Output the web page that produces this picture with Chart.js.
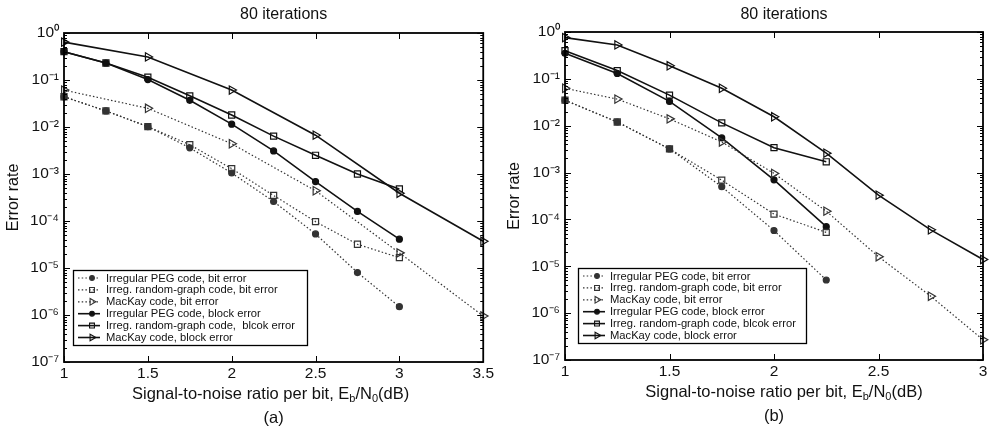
<!DOCTYPE html>
<html>
<head>
<meta charset="utf-8">
<script src="https://cdn.jsdelivr.net/npm/chart.js@4/dist/chart.umd.min.js"></script>
<style>
  html, body { margin: 0; padding: 0; background: #fff; }
  #wrap { position: relative; width: 992px; height: 442px; }
  .panel { position: absolute; top: 0; width: 496px; height: 442px; }
</style>
</head>
<body>
<div id="wrap">
  <div class="panel" style="left:0"><canvas id="chartA" width="496" height="442"></canvas></div>
  <div class="panel" style="left:496px"><canvas id="chartB" width="496" height="442"></canvas></div>
</div>
<script>
// ---- data ----
const legendLabelsA = [
  'Irregular PEG code, bit error',
  'Irreg. random-graph code, bit error',
  'MacKay code, bit error',
  'Irregular PEG code, block error',
  'Irreg. random-graph code,  blcok error',
  'MacKay code, block error',
];
const legendLabelsB = [
  'Irregular PEG code, bit error',
  'Irreg. random-graph code, bit error',
  'MacKay code, bit error',
  'Irregular PEG code, block error',
  'Irreg. random-graph code, blcok error',
  'MacKay code, block error',
];

const yTickExps = [0, -1, -2, -3, -4, -5, -6, -7];
const yTickLabels = ['10⁰', '10⁻¹', '10⁻²', '10⁻³', '10⁻⁴', '10⁻⁵', '10⁻⁶', '10⁻⁷'];

// (a)
const snrA = [1, 1.25, 1.5, 1.75, 2, 2.25, 2.5, 2.75, 3];
const snrMacKayA = [1, 1.5, 2, 2.5, 3, 3.5];
const pegBitA = [0.044, 0.022, 0.0102, 0.0036, 0.00105, 0.00026, 0.000053, 0.000008, 0.0000015];
const randBitA = [0.044, 0.022, 0.0102, 0.0042, 0.0013, 0.00035, 0.000097, 0.000032, 0.0000166];
const mackayBitA = [0.061, 0.025, 0.0044, 0.00044, 0.000021, 0.00000095];
const pegBlockA = [0.4, 0.23, 0.102, 0.037, 0.0115, 0.0031, 0.00069, 0.00016, 0.000041];
const randBlockA = [0.4, 0.23, 0.115, 0.046, 0.018, 0.0064, 0.0025, 0.001, 0.00048];
const mackayBlockA = [0.64, 0.31, 0.061, 0.0067, 0.00039, 0.000037];

// (b)
const snrB = [1, 1.25, 1.5, 1.75, 2, 2.25];
const snrMacKayB = [1, 1.25, 1.5, 1.75, 2, 2.25, 2.5, 2.75, 3];
const pegBitB = [0.035, 0.012, 0.0032, 0.0005, 0.000058, 0.0000051];
const randBitB = [0.035, 0.012, 0.0032, 0.00069, 0.00013, 0.000053];
const mackayBitB = [0.063, 0.037, 0.014, 0.0045, 0.00096, 0.00015, 0.000016, 0.0000023, 0.00000027];
const pegBlockB = [0.35, 0.13, 0.033, 0.0055, 0.0007, 0.00007];
const randBlockB = [0.4, 0.15, 0.045, 0.0115, 0.0034, 0.0017];
const mackayBlockB = [0.76, 0.53, 0.19, 0.063, 0.0155, 0.0026, 0.00033, 0.00006, 0.000014];

// ---- styling ----
const FONT = "'Liberation Sans', Arial, sans-serif";
Chart.defaults.font.family = FONT;
Chart.defaults.color = '#111';

const DOT = '#333';
const styles = [
  { color: DOT, dash: [1.5, 2.2], width: 1.2, point: 'circle', r: 3, fill: DOT },
  { color: DOT, dash: [1.5, 2.2], width: 1.2, point: 'rect', r: 4.3, fill: 'rgba(0,0,0,0)' },
  { color: DOT, dash: [1.5, 2.2], width: 1.2, point: 'triangle', r: 4.8, fill: 'rgba(0,0,0,0)' },
  { color: '#111', dash: [], width: 1.6, point: 'circle', r: 3, fill: '#111' },
  { color: '#111', dash: [], width: 1.6, point: 'rect', r: 4.3, fill: 'rgba(0,0,0,0)' },
  { color: '#111', dash: [], width: 1.6, point: 'triangle', r: 4.8, fill: 'rgba(0,0,0,0)' },
];

function pairs(xs, ys) {
  return ys.map((y, i) => ({ x: xs[i], y: y }));
}

function buildDatasets(series, labels) {
  return series.map((s, i) => {
    const st = styles[i];
    return {
      label: labels[i],
      data: pairs(s[0], s[1]),
      borderColor: st.color,
      borderWidth: st.width,
      borderDash: st.dash,
      pointStyle: st.point,
      pointRotation: st.point === 'triangle' ? 90 : 0,
      pointRadius: st.r,
      pointBorderWidth: 1.2,
      pointBorderColor: st.color,
      pointBackgroundColor: st.fill,
      tension: 0,
      fill: false,
      clip: false,
    };
  });
}

function drawMarker(ctx, st, x, y, k) {
  ctx.save();
  ctx.setLineDash([]);
  ctx.lineWidth = 1.1;
  ctx.strokeStyle = st.color;
  ctx.fillStyle = st.fill;
  ctx.beginPath();
  const r = st.r * k;
  if (st.point === 'circle') {
    ctx.arc(x, y, r, 0, Math.PI * 2);
  } else if (st.point === 'rect') {
    const h = r * Math.SQRT1_2;
    ctx.rect(x - h, y - h, 2 * h, 2 * h);
  } else {
    ctx.moveTo(x + r, y);
    ctx.lineTo(x - r * 0.5, y - r * 0.866);
    ctx.lineTo(x - r * 0.5, y + r * 0.866);
    ctx.closePath();
  }
  ctx.fill();
  ctx.stroke();
  ctx.restore();
}

// title, box, inner ticks on all four sides, legend, x title with subscripts
const decorations = {
  id: 'decorations',
  afterDatasetsDraw(chart, args, opts) {
    const { ctx, chartArea: a, scales } = chart;
    const x = scales.x, y = scales.y;
    const mid = (a.left + a.right) / 2;
    ctx.save();
    ctx.strokeStyle = '#000';
    ctx.lineWidth = 1;
    ctx.beginPath();
    x.ticks.forEach((t) => {
      const px = Math.round(x.getPixelForValue(t.value)) + 0.5;
      ctx.moveTo(px, a.bottom); ctx.lineTo(px, a.bottom - 6);
      ctx.moveTo(px, a.top); ctx.lineTo(px, a.top + 6);
    });
    for (let e = -7; e <= 0; e++) {
      for (let m = 1; m < 10; m++) {
        const v = m * Math.pow(10, e);
        if (v > 1) break;
        const py = Math.round(y.getPixelForValue(v)) + 0.5;
        const len = m === 1 ? 6 : 3;
        ctx.moveTo(a.left, py); ctx.lineTo(a.left + len, py);
        ctx.moveTo(a.right, py); ctx.lineTo(a.right - len, py);
      }
    }
    ctx.stroke();
    ctx.lineWidth = 1.8;
    ctx.strokeRect(a.left, a.top, a.width, a.height);

    // chart title
    ctx.fillStyle = '#111';
    ctx.font = '16px ' + FONT;
    ctx.textAlign = 'center';
    ctx.textBaseline = 'middle';
    ctx.fillText(opts.title, mid + opts.titleShift, 15);

    // legend
    const L = opts.legend;
    ctx.fillStyle = '#fff';
    ctx.fillRect(L.left, L.top, L.width, L.height);
    ctx.lineWidth = 1.3;
    ctx.strokeStyle = '#000';
    ctx.strokeRect(L.left + 0.5, L.top + 0.5, L.width, L.height);
    ctx.font = L.font + 'px ' + FONT;
    ctx.textAlign = 'left';
    chart.data.datasets.forEach((ds, i) => {
      const st = styles[i];
      const ry = L.top + 8 + i * 11.9;
      ctx.save();
      ctx.strokeStyle = st.color;
      ctx.lineWidth = st.width;
      ctx.setLineDash(st.dash);
      ctx.beginPath();
      ctx.moveTo(L.left + L.lineFrom, ry);
      ctx.lineTo(L.left + L.lineTo, ry);
      ctx.stroke();
      ctx.restore();
      drawMarker(ctx, st, L.left + L.markAt, ry, 0.8);
      ctx.fillStyle = '#111';
      ctx.fillText(ds.label, L.left + L.textAt, ry + 0.5);
    });

    // x axis title with subscripts, then panel tag
    const parts = [
      ['Signal-to-noise ratio per bit, E', false],
      ['b', true],
      ['/N', false],
      ['0', true],
      ['(dB)', false],
    ];
    const big = '16.5px ' + FONT;
    const small = '11px ' + FONT;
    let total = 0;
    parts.forEach((p) => { ctx.font = p[1] ? small : big; total += ctx.measureText(p[0]).width; });
    let cx = mid - total / 2 + opts.xTitleShift;
    const ty = a.bottom + 32;
    ctx.fillStyle = '#111';
    parts.forEach((p) => {
      ctx.font = p[1] ? small : big;
      ctx.fillText(p[0], cx, p[1] ? ty + 5 : ty);
      cx += ctx.measureText(p[0]).width;
    });
    ctx.font = big;
    ctx.textAlign = 'center';
    ctx.fillText(opts.tag, mid, a.bottom + 56);
    ctx.restore();
  },
};

function makeChart(id, series, labels, cfg) {
  return new Chart(document.getElementById(id), {
    type: 'line',
    data: { datasets: buildDatasets(series, labels) },
    plugins: [decorations],
    options: {
      responsive: false,
      animation: false,
      layout: { padding: { left: 0, right: cfg.padRight, top: cfg.top, bottom: 0 } },
      plugins: {
        legend: { display: false },
        tooltip: { enabled: false },
        title: { display: false },
        decorations: {
          title: '80 iterations', titleShift: 10,
          legend: cfg.legend, tag: cfg.tag, xTitleShift: cfg.xTitleShift,
        },
      },
      scales: {
        x: {
          type: 'linear',
          min: 1,
          max: cfg.xMax,
          grid: { display: false, drawTicks: false },
          border: { display: false },
          ticks: {
            stepSize: 0.5, font: { size: 15.5 }, padding: 2, maxRotation: 0,
            callback: (v) => String(v),
          },
          afterFit: (s) => { s.height = cfg.xHeight; },
        },
        y: {
          type: 'logarithmic',
          min: 1e-7,
          max: 1,
          grid: { display: false, drawTicks: false },
          border: { display: false },
          title: { display: true, text: 'Error rate', font: { size: 16 }, padding: { top: cfg.yTitlePad, bottom: 0 } },
          ticks: {
            font: { size: 15.5 },
            padding: 5,
            callback: (v) => {
              const i = yTickExps.indexOf(Math.round(Math.log10(v)));
              return i >= 0 ? yTickLabels[i] : '';
            },
          },
          afterBuildTicks: (s) => { s.ticks = yTickExps.map((e) => ({ value: Math.pow(10, e) })); },
          afterFit: (s) => { s.width = cfg.yWidth; },
        },
      },
    },
  });
}

makeChart('chartA', [
  [snrA, pegBitA], [snrA, randBitA], [snrMacKayA, mackayBitA],
  [snrA, pegBlockA], [snrA, randBlockA], [snrMacKayA, mackayBlockA],
], legendLabelsA, {
  xMax: 3.5, padRight: 12, top: 33, xHeight: 80, yWidth: 64, yTitlePad: 4, tag: '(a)', xTitleShift: -3,
  legend: { left: 73, top: 270, width: 234, height: 75, lineFrom: 5, lineTo: 27, markAt: 19, textAt: 33, font: 11.2 },
});

makeChart('chartB', [
  [snrB, pegBitB], [snrB, randBitB], [snrMacKayB, mackayBitB],
  [snrB, pegBlockB], [snrB, randBlockB], [snrMacKayB, mackayBlockB],
], legendLabelsB, {
  xMax: 3, padRight: 9, top: 32, xHeight: 82, yWidth: 69, yTitlePad: 9, tag: '(b)', xTitleShift: 10,
  legend: { left: 82, top: 268, width: 228, height: 75, lineFrom: 5, lineTo: 27, markAt: 19, textAt: 32, font: 11.2 },
});
</script>
</body>
</html>
